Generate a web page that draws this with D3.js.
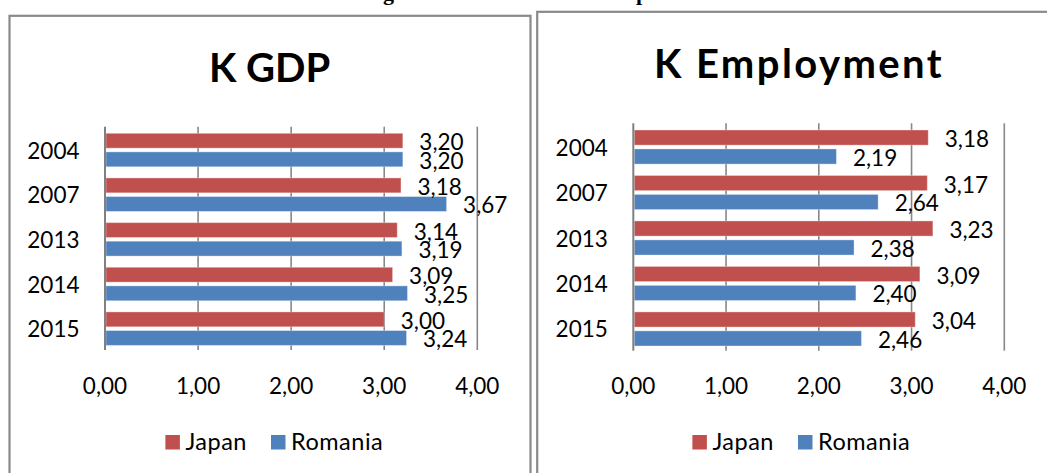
<!DOCTYPE html>
<html>
<head>
<meta charset="utf-8">
<script src="https://cdn.jsdelivr.net/npm/d3@7"></script>
<style>
  body { margin: 0; background: #fff; }
  svg { display: block; }
  text { font-family: Lato, "Open Sans", sans-serif; fill: #000; }
</style>
</head>
<body>
<svg id="chart" width="1047" height="473"></svg>
<script>
// categories, series and ticks
var years = ['2004', '2007', '2013', '2014', '2015'];
var seriesNames = ['Japan', 'Romania'];
var gdpJapan = [3.20, 3.18, 3.14, 3.09, 3.00];
var gdpRomania = [3.20, 3.67, 3.19, 3.25, 3.24];
var empJapan = [3.18, 3.17, 3.23, 3.09, 3.04];
var empRomania = [2.19, 2.64, 2.38, 2.40, 2.46];
var xTicks = [0, 1, 2, 3, 4];
var seriesColors = ['#C0504D', '#4F81BD'];

var svg = d3.select('#chart');
var fmt = function(v) { return d3.format('.2f')(v).replace('.', ','); };

// cut off caption from the page above the charts
svg.append('text').attr('x', 383).attr('y', 0)
  .style('font-family', '"Liberation Serif", serif').style('font-weight', 'bold').style('font-size', '22px')
  .text('g');
svg.append('text').attr('x', 636).attr('y', 0)
  .style('font-family', '"Liberation Serif", serif').style('font-weight', 'bold').style('font-size', '22px')
  .text('p');

function drawPanel(p) {
  var g = svg.append('g');

  //frame
  g.append('rect')
    .attr('x', p.box[0]).attr('y', p.box[1])
    .attr('width', p.box[2]).attr('height', p.box[3])
    .attr('fill', '#fff').attr('stroke', '#8a8a8a').attr('stroke-width', 2.2);

  //title
  g.append('text')
    .attr('x', p.titleX).attr('y', p.titleY)
    .attr('text-anchor', 'middle')
    .style('font-weight', 'bold').style('font-size', '40px')
    .style('letter-spacing', p.titleSpacing + 'px')
    .text(p.title);

  var x = d3.scaleLinear().domain([0, 4]).range([p.plotX0, p.plotX1]);
  var y0 = d3.scaleBand().domain(years).range([p.plotY0, p.plotY1]);
  var groupH = y0.bandwidth() * 0.75;
  var y1 = d3.scaleBand().domain(seriesNames).range([0, groupH]).paddingInner(0.2);
  var groupOff = (y0.bandwidth() - groupH) / 2 + 1;

  //gridlines
  g.selectAll('line.grid').data(xTicks.slice(1)).enter().append('line')
    .attr('class', 'grid')
    .attr('x1', function(d) { return x(d); }).attr('x2', function(d) { return x(d); })
    .attr('y1', p.plotY0).attr('y2', p.plotY1)
    .attr('stroke', '#878787').attr('stroke-width', 1.6);

  //bars + labels
  var rows = years.map(function(yr, i) {
    return [
      { year: yr, s: 'Japan', v: p.japan[i], c: seriesColors[0] },
      { year: yr, s: 'Romania', v: p.romania[i], c: seriesColors[1] }
    ];
  });
  var flat = [].concat.apply([], rows);

  g.selectAll('rect.bar').data(flat).enter().append('rect')
    .attr('class', 'bar')
    .attr('x', x(0) + 1)
    .attr('y', function(d) { return y0(d.year) + groupOff + y1(d.s); })
    .attr('width', function(d) { return x(d.v) - x(0) - 1; })
    .attr('height', y1.bandwidth())
    .attr('fill', function(d) { return d.c; })
    .attr('stroke', 'rgba(255,255,255,0.35)').attr('stroke-width', 1);

  g.selectAll('text.val').data(flat).enter().append('text')
    .attr('class', 'val')
    .attr('x', function(d) { return x(d.v) + 16.5; })
    .attr('y', function(d) { return y0(d.year) + groupOff + y1(d.s) + y1.bandwidth() / 2 + 1; })
    .attr('dominant-baseline', 'central')
    .style('font-size', '22.5px')
    .text(function(d) { return fmt(d.v); });

  //category axis line
  g.append('line')
    .attr('x1', x(0)).attr('x2', x(0))
    .attr('y1', p.plotY0).attr('y2', p.plotY1)
    .attr('stroke', '#808080').attr('stroke-width', 2);

  //category labels
  g.selectAll('text.cat').data(years).enter().append('text')
    .attr('class', 'cat')
    .attr('x', x(0) - 25.5)
    .attr('y', function(d) { return y0(d) + y0.bandwidth() / 2 + 1; })
    .attr('text-anchor', 'end').attr('dominant-baseline', 'central')
    .style('font-size', '22.5px')
    .text(function(d) { return d; });

  //value axis labels
  g.selectAll('text.tick').data(xTicks).enter().append('text')
    .attr('class', 'tick')
    .attr('x', function(d) { return x(d); })
    .attr('y', p.tickY)
    .attr('text-anchor', 'middle')
    .style('font-size', '22.5px')
    .text(function(d) { return fmt(d); });

  //legend
  var leg = g.append('g');
  var cx = 0;
  seriesNames.forEach(function(name, i) {
    leg.append('rect')
      .attr('x', cx).attr('y', -15)
      .attr('width', 14.5).attr('height', 14.5)
      .attr('fill', seriesColors[i]);
    var t = leg.append('text')
      .attr('x', cx + 20).attr('y', 0)
      .style('font-size', '23.5px').style('letter-spacing', '0.5px')
      .text(name);
    cx += 20 + t.node().getComputedTextLength() + 24;
  });
  var legW = cx - 24;
  leg.attr('transform', 'translate(' + (p.legendCX - legW / 2) + ',' + p.legendY + ')');
}

drawPanel({
  title: 'K GDP', titleSpacing: 0, japan: gdpJapan, romania: gdpRomania,
  box: [9.5, 15.8, 521, 500],
  titleX: 269.6, titleY: 81.7,
  plotX0: 105, plotX1: 477.3, plotY0: 126.7, plotY1: 350,
  tickY: 394, legendCX: 274.3, legendY: 450
});

drawPanel({
  title: 'K Employment', titleSpacing: 2.4, japan: empJapan, romania: empRomania,
  box: [537.2, 11.8, 522, 500],
  titleX: 799, titleY: 78.3,
  plotX0: 633.3, plotX1: 1004.3, plotY0: 123.3, plotY1: 350.7,
  tickY: 394, legendCX: 801.3, legendY: 450
});
</script>
</body>
</html>
